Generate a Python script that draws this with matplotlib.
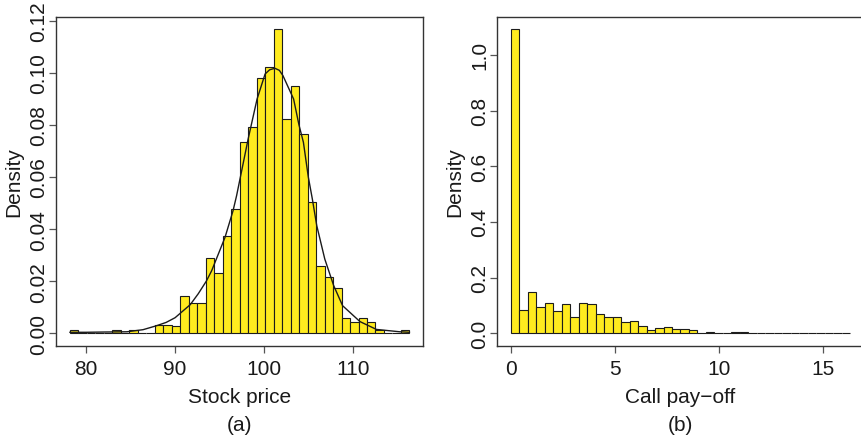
import matplotlib
matplotlib.use('Agg')
import matplotlib.pyplot as plt
import numpy as np

# Simulated terminal stock prices: 40 equal bins between the sample min and max
price_min, price_max = 78.2, 116.3
price_density = [0.0011, 0, 0, 0, 0, 0.0011, 0, 0.0011, 0, 0,
                 0.0031, 0.0031, 0.0028, 0.0144, 0.0115, 0.0115, 0.0288, 0.0230, 0.0375, 0.0476,
                 0.0733, 0.0793, 0.0979, 0.1023, 0.1167, 0.0821, 0.0950, 0.0764, 0.0505, 0.0260,
                 0.0215, 0.0173, 0.0058, 0.0043, 0.0058, 0.0045, 0.0014, 0, 0, 0.0011]

# smooth density line drawn over the price histogram
curve_x = [78.2, 80.0, 82.0, 84.6, 86.4, 87.9, 89.0, 90.0, 91.7, 92.6, 93.5, 94.1, 95.6, 96.5,
           96.9, 98.2, 99.2, 100.1, 100.6, 101.2, 101.7, 102.1, 103.3, 103.9, 104.4, 104.95,
           105.4, 105.9, 106.8, 107.8, 108.8, 110.75, 112.6, 115.2, 116.3]
curve_y = [0.0004, 0.0004, 0.0005, 0.0006, 0.0014, 0.0029, 0.0042, 0.0060, 0.0110, 0.0152,
           0.0200, 0.0240, 0.0368, 0.0470, 0.0528, 0.0746, 0.0899, 0.0995, 0.1011, 0.1017,
           0.1009, 0.0989, 0.0899, 0.0800, 0.0733, 0.0600, 0.0516, 0.0413, 0.0285, 0.0183,
           0.0106, 0.0045, 0.0015, 0.0006, 0.0004]

# Call pay-off max(S - 100, 0): 40 equal bins from 0 to the largest pay-off
payoff_min, payoff_max = 0.0, 16.3
payoff_density = [1.092, 0.083, 0.147, 0.096, 0.110, 0.080, 0.104, 0.060, 0.110, 0.107,
                  0.070, 0.057, 0.060, 0.040, 0.044, 0.027, 0.013, 0.020, 0.024, 0.017,
                  0.017, 0.012, 0.0025, 0.0049, 0.0025, 0.0025, 0.0049, 0.0049, 0.0025, 0.0025,
                  0.0025, 0, 0.0025, 0, 0, 0, 0, 0, 0, 0.0025]

price_ticks = [80, 90, 100, 110]
price_yticks = [0.00, 0.02, 0.04, 0.06, 0.08, 0.10, 0.12]
payoff_ticks = [0, 5, 10, 15]
payoff_yticks = [0.0, 0.2, 0.4, 0.6, 0.8, 1.0]

plt.rcParams['font.family'] = ['Liberation Sans', 'DejaVu Sans']
plt.rcParams['font.size'] = 15

BAR = '#FFEB1F'
EDGE = '#1c1c1c'
INK = '#1a1a1a'

W, H = 862, 439
fig = plt.figure(figsize=(W / 100, H / 100), dpi=100)


def px_axes(x0, x1, y0, y1):
    return fig.add_axes([x0 / W, 1 - y1 / H, (x1 - x0) / W, (y1 - y0) / H])


def r_hist(ax, lo, hi, dens):
    edges = np.linspace(lo, hi, len(dens) + 1)
    ax.bar(edges[:-1], dens, width=np.diff(edges), align='edge',
           color=BAR, edgecolor=EDGE, linewidth=0.8, zorder=2)
    # R's default 4% padding around the data range
    pad = 0.04 * (hi - lo)
    ax.set_xlim(lo - pad, hi + pad)
    top = max(dens)
    ax.set_ylim(-0.04 * top, 1.04 * top)


def style(ax, xt, yt, yfmt, xlabel, tag):
    ax.set_xticks(xt)
    ax.set_yticks(yt)
    ax.set_yticklabels([yfmt.format(v) for v in yt])
    for s in ax.spines.values():
        s.set_color('#333333')
        s.set_linewidth(1.0)
    ax.tick_params(direction='out', length=5, width=0.9, color='#555555',
                   labelcolor=INK)
    ax.tick_params(axis='x', pad=5)
    ax.tick_params(axis='y', labelrotation=90, pad=1)
    for lab in ax.get_yticklabels():
        lab.set_va('center')
    ax.set_xlabel(xlabel, color=INK, labelpad=6)
    ax.set_ylabel('Density', color=INK, labelpad=4)
    pos = ax.get_position()
    fig.text((pos.x0 + pos.x1) / 2, 1 - 426 / H, tag, ha='center', va='center', color=INK)


ax1 = px_axes(56.4, 423.0, 18.0, 346.5)
r_hist(ax1, price_min, price_max, price_density)
ax1.plot(curve_x, curve_y, color='#1a1a1a', linewidth=1.0, zorder=3)
style(ax1, price_ticks, price_yticks, '{:.2f}', 'Stock price', '(a)')

ax2 = px_axes(497.4, 863.6, 18.0, 346.5)
r_hist(ax2, payoff_min, payoff_max, payoff_density)
style(ax2, payoff_ticks, payoff_yticks, '{:.1f}', 'Call pay\u2212off', '(b)')

fig.savefig('out.png', dpi=100)
